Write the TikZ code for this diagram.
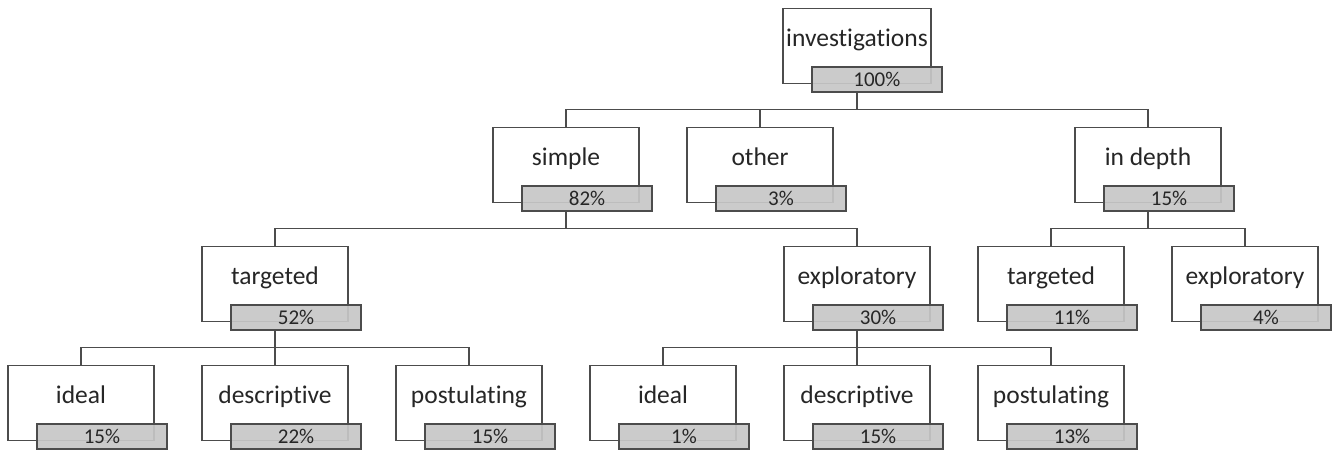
\documentclass[tikz,border=0pt]{standalone}
\usepackage{fontspec}
\setmainfont{Carlito}[Ligatures=NoCommon]
\usetikzlibrary{calc}
\usetikzlibrary{positioning}

\begin{document}
\begin{tikzpicture}[x=1pt, y=-1pt,
        catbox/.style={rectangle, draw=black!70, line width=1.4pt, fill=white, minimum width=146pt, minimum height=75pt, text height=9pt, text depth=9pt, font=\fontsize{25.5}{30}\selectfont, text=black!85},
        pctbox/.style={rectangle, draw=black!70, line width=1.4pt, fill=black!22, fill opacity=0.92, text opacity=1, minimum width=130pt, minimum height=25pt, inner sep=0pt, font=\fontsize{21}{24}\selectfont, text=black!85, anchor=north west},
        link/.style={draw=black!70, line width=1.4pt}]
        \useasboundingbox (0,0) rectangle (1338,450);
        \foreach \n/\x/\y/\t/\p in {inv/857/46/investigations/100, sim/566/165/simple/82, oth/760/165/other/3, dep/1148/165/in depth/15, tga/275/284/targeted/52, exa/857/284/exploratory/30, tgb/1051/284/targeted/11, exb/1245/284/exploratory/4, ida/81/403/ideal/15, dea/275/403/descriptive/22, poa/469/403/postulating/15, idb/663/403/ideal/1, deb/857/403/descriptive/15, pob/1051/403/postulating/13}
        {
            \node[catbox] (\n) at (\x,\y) {\t};
            \node[pctbox] (\n-p) at ([xshift=29pt, yshift=18pt]\n.south west) {\p\%};
        }
        \foreach \a/\b in {inv/sim, inv/oth, inv/dep, sim/tga, sim/exa, dep/tgb, dep/exb, tga/ida, tga/dea, tga/poa, exa/idb, exa/deb, exa/pob}
        {
            \draw[link] (\a.center |- \a-p.south) -- ++(0,17) -| (\b.north);
        }
    \end{tikzpicture}
\end{document}
